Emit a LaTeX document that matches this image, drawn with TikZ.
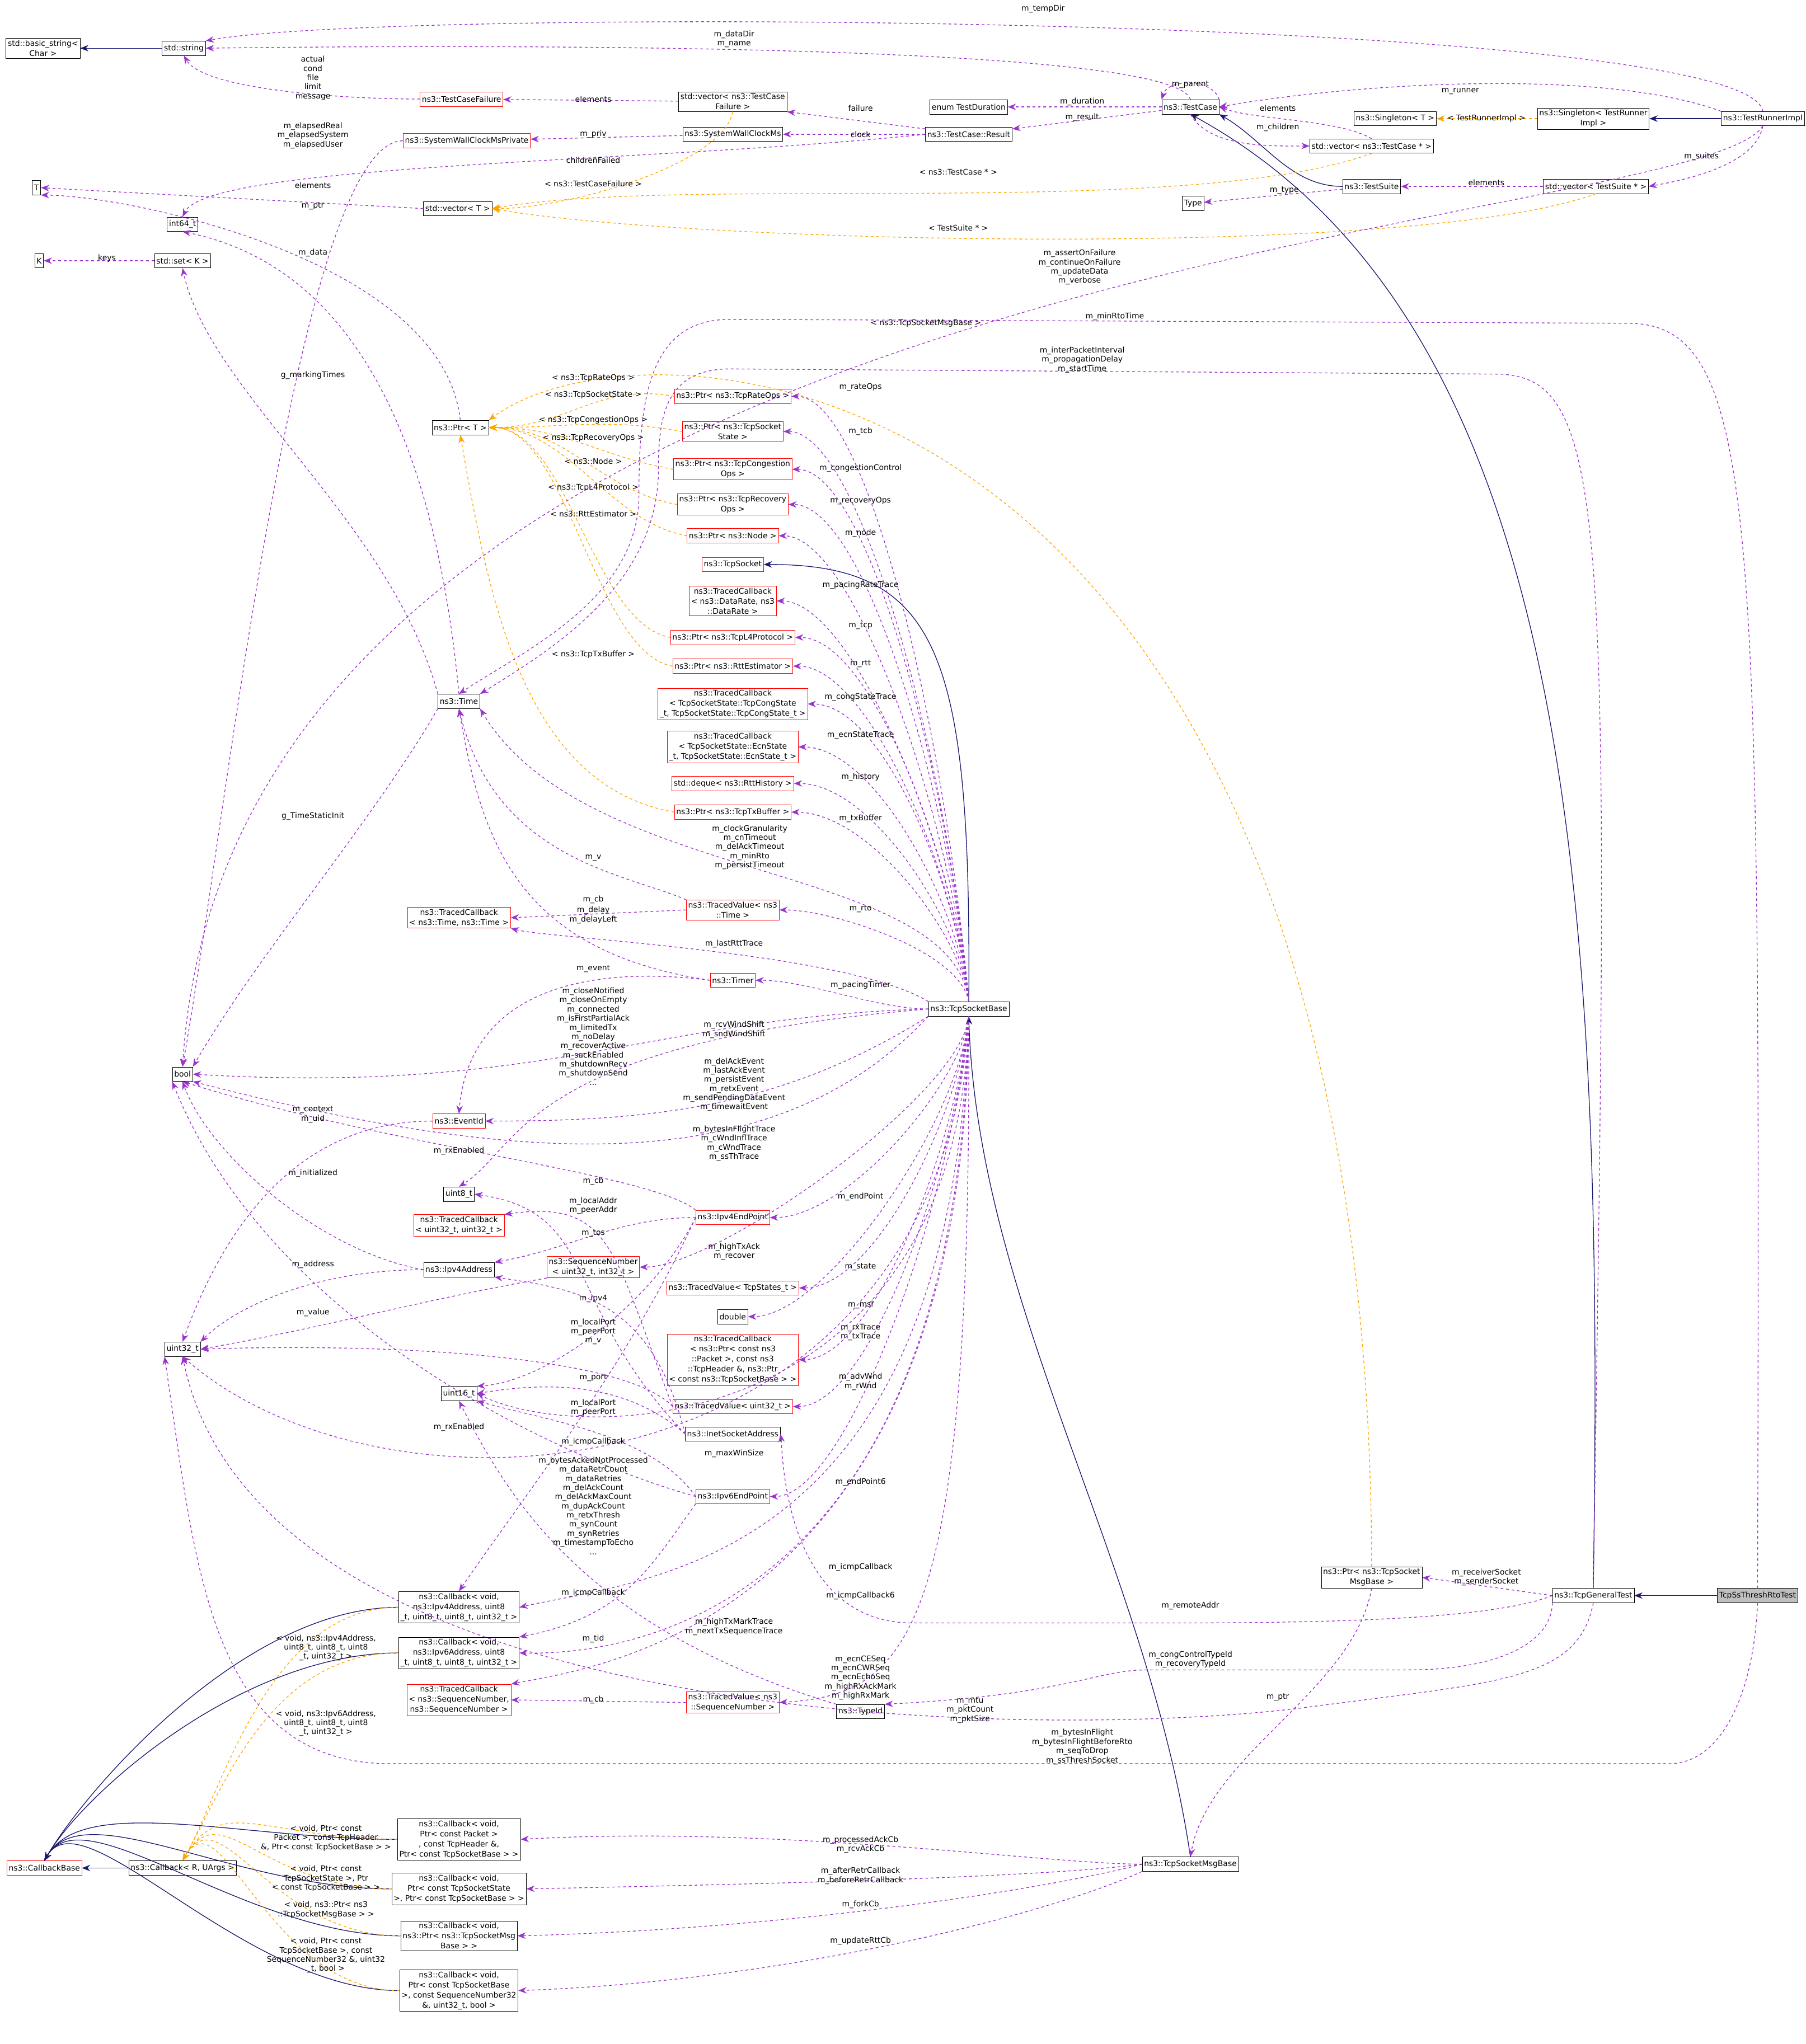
\documentclass[tikz,border=0pt]{standalone}
\usepackage{fontspec}
\setmainfont{DejaVu Sans}
\usetikzlibrary{arrows.meta}
\definecolor{inhcol}{HTML}{191970}
\definecolor{memcol}{HTML}{9A32CD}
\definecolor{tplcol}{HTML}{FFA500}
\tikzset{
  cls/.style={draw=black, fill=white, thin, inner sep=2pt, minimum height=0.55cm, align=center, font=\fontsize{8.5}{11}\selectfont},
  redcls/.style={cls, draw=red},
  inh/.style={draw=inhcol, thick, -{Stealth[length=9pt,width=7pt]}},
  tpl/.style={draw=tplcol, thick, dashed, -{Stealth[length=9pt,width=7pt]}},
  mem/.style={draw=memcol, thick, dashed, -{Stealth[length=9pt,width=7pt]}},
  lbl/.style={align=center, inner sep=0pt, font=\fontsize{8.5}{10}\selectfont},
}
\begin{document}
\begin{tikzpicture}[x=0.05cm,y=0.05cm]
\useasboundingbox (0,0) rectangle (1385,-1568);
% left column
\node[cls] (basic_string) at (33,-37) {std::basic\_string<\\Char >};
\node[cls] (std_string) at (141,-37) {std::string};
\node[cls] (T) at (28,-144) {T};
\node[cls] (int64) at (140,-172) {int64\_t};
\node[cls] (K) at (30,-200) {K};
\node[cls] (stdset) at (140,-200) {std::set< K >};
\node[cls] (ptrT) at (353,-328) {ns3::Ptr< T >};
\node[cls] (time) at (352,-538) {ns3::Time};
\node[cls] (bool) at (140,-824) {bool};
\node[cls] (uint32) at (140,-1035) {uint32\_t};
\node[redcls] (callbackbase) at (34,-1433) {ns3::CallbackBase};
\node[cls] (callbackR) at (140,-1433) {ns3::Callback< R, UArgs >};
% test framework
\node[redcls] (testcasefailure) at (354,-76) {ns3::TestCaseFailure};
\node[redcls] (syswallpriv) at (358,-108) {ns3::SystemWallClockMsPrivate};
\node[cls] (vectorT) at (351,-160) {std::vector< T >};
\node[cls] (vectorfailure) at (562,-78) {std::vector< ns3::TestCase\\Failure >};
\node[cls] (syswall) at (562,-103) {ns3::SystemWallClockMs};
\node[cls] (testduration) at (743,-82) {enum TestDuration};
\node[cls] (testresult) at (743,-103) {ns3::TestCase::Result};
\node[cls] (testcase) at (913,-82) {ns3::TestCase};
\node[cls] (vectortestcase) at (1052,-112) {std::vector< ns3::TestCase * >};
\node[cls] (singletonT) at (1070,-91) {ns3::Singleton< T >};
\node[cls] (singletonTR) at (1222,-91) {ns3::Singleton< TestRunner\\Impl >};
\node[cls] (testrunnerimpl) at (1352,-91) {ns3::TestRunnerImpl};
\node[cls] (type) at (915,-156) {Type};
\node[cls] (testsuite) at (1052,-143) {ns3::TestSuite};
\node[cls] (vectortestsuite) at (1224,-143) {std::vector< TestSuite * >};
% tcp socket members
\node[redcls] (ptrrate) at (562,-304) {ns3::Ptr< ns3::TcpRateOps >};
\node[redcls] (ptrtcb) at (562,-331) {ns3::Ptr< ns3::TcpSocket\\State >};
\node[redcls] (ptrcong) at (562,-360) {ns3::Ptr< ns3::TcpCongestion\\Ops >};
\node[redcls] (ptrrec) at (562,-387) {ns3::Ptr< ns3::TcpRecovery\\Ops >};
\node[redcls] (ptrnode) at (562,-411) {ns3::Ptr< ns3::Node >};
\node[redcls] (tcpsocket) at (562,-433) {ns3::TcpSocket};
\node[redcls] (tracedrate) at (562,-461) {ns3::TracedCallback\\< ns3::DataRate, ns3\\::DataRate >};
\node[redcls] (ptrl4) at (562,-489) {ns3::Ptr< ns3::TcpL4Protocol >};
\node[redcls] (ptrrtt) at (562,-511) {ns3::Ptr< ns3::RttEstimator >};
\node[redcls] (tracedcong) at (562,-540) {ns3::TracedCallback\\< TcpSocketState::TcpCongState\\\_t, TcpSocketState::TcpCongState\_t >};
\node[redcls] (tracedecn) at (562,-573) {ns3::TracedCallback\\< TcpSocketState::EcnState\\\_t, TcpSocketState::EcnState\_t >};
\node[redcls] (deque) at (562,-601) {std::deque< ns3::RttHistory >};
\node[redcls] (ptrtx) at (562,-623) {ns3::Ptr< ns3::TcpTxBuffer >};
\node[redcls] (tracedtime) at (562,-698) {ns3::TracedValue< ns3\\::Time >};
\node[redcls] (tracedcbtime) at (352,-704) {ns3::TracedCallback\\< ns3::Time, ns3::Time >};
\node[redcls] (timer) at (562,-752) {ns3::Timer};
\node[cls] (tcpsocketbase) at (743,-774) {ns3::TcpSocketBase};
\node[redcls] (eventid) at (352,-860) {ns3::EventId};
\node[cls] (uint8) at (352,-916) {uint8\_t};
\node[redcls] (tracedu32) at (352,-940) {ns3::TracedCallback\\< uint32\_t, uint32\_t >};
\node[cls] (ipv4addr) at (352,-974) {ns3::Ipv4Address};
\node[redcls] (ipv4ep) at (562,-934) {ns3::Ipv4EndPoint};
\node[redcls] (seqnum) at (455,-972) {ns3::SequenceNumber\\< uint32\_t, int32\_t >};
\node[redcls] (tracedstates) at (562,-988) {ns3::TracedValue< TcpStates\_t >};
\node[cls] (double) at (562,-1010) {double};
\node[redcls] (tracedpkt) at (562,-1043) {ns3::TracedCallback\\< ns3::Ptr< const ns3\\::Packet >, const ns3\\::TcpHeader \&, ns3::Ptr\\< const ns3::TcpSocketBase > >};
\node[redcls] (tracedvu32) at (562,-1079) {ns3::TracedValue< uint32\_t >};
\node[cls] (uint16) at (352,-1069) {uint16\_t};
\node[cls] (inetsock) at (562,-1100) {ns3::InetSocketAddress};
\node[redcls] (ipv6ep) at (562,-1148) {ns3::Ipv6EndPoint};
\node[cls] (cbipv4) at (352,-1233) {ns3::Callback< void,\\ns3::Ipv4Address, uint8\\\_t, uint8\_t, uint8\_t, uint32\_t >};
\node[cls] (cbipv6) at (352,-1268) {ns3::Callback< void,\\ns3::Ipv6Address, uint8\\\_t, uint8\_t, uint8\_t, uint32\_t >};
\node[redcls] (tracedseq) at (352,-1304) {ns3::TracedCallback\\< ns3::SequenceNumber,\\ns3::SequenceNumber >};
\node[redcls] (tracedvseq) at (562,-1306) {ns3::TracedValue< ns3\\::SequenceNumber >};
\node[cls] (typeid) at (660,-1313) {ns3::TypeId};
\node[cls] (cbpkt) at (352,-1411) {ns3::Callback< void,\\Ptr< const Packet >\\, const TcpHeader \&,\\Ptr< const TcpSocketBase > >};
\node[cls] (cbstate) at (352,-1449) {ns3::Callback< void,\\Ptr< const TcpSocketState\\>, Ptr< const TcpSocketBase > >};
\node[cls] (cbmsg) at (352,-1485) {ns3::Callback< void,\\ns3::Ptr< ns3::TcpSocketMsg\\Base > >};
\node[cls] (cbrtt) at (352,-1527) {ns3::Callback< void,\\Ptr< const TcpSocketBase\\>, const SequenceNumber32\\\&, uint32\_t, bool >};
\node[cls] (msgbase) at (913,-1430) {ns3::TcpSocketMsgBase};
\node[cls] (ptrmsg) at (1052,-1210) {ns3::Ptr< ns3::TcpSocket\\MsgBase >};
\node[cls] (generaltest) at (1222,-1224) {ns3::TcpGeneralTest};
\node[cls, fill=black!25] (ssthresh) at (1348,-1224) {TcpSsThreshRtoTest};

% inheritance
\draw[inh] (std_string) -- (basic_string);
\draw[inh] (testsuite.west) .. controls +(180:40) and +(-30:40) .. (testcase.south east);
\draw[inh] (testrunnerimpl) -- (singletonTR);
\draw[inh] (generaltest.north) .. controls (1230,-700) and (1210,-250) .. (testcase.south);
\draw[inh] (ssthresh) -- (generaltest);
\draw[inh] (tcpsocketbase.north) .. controls (745,-500) and (720,-433) .. (tcpsocket.east);
\draw[inh] (msgbase.north) .. controls (880,-1200) and (750,-1000) .. (tcpsocketbase.south);
\draw[inh] (callbackR) -- (callbackbase);
\foreach \cb in {cbipv4,cbipv6,cbpkt,cbstate,cbmsg,cbrtt}
  \draw[inh] (\cb.west) .. controls +(180:120) and +(60:60) .. (callbackbase.north);

% templates
\draw[tpl] (vectorfailure.south) .. controls +(-100:40) and +(0:60) .. (vectorT.east);
\draw[tpl] (vectortestcase.south) .. controls +(-160:150) and +(10:150) .. (vectorT.east);
\draw[tpl] (vectortestsuite.south) .. controls +(-160:150) and +(-10:150) .. (vectorT.east);
\draw[tpl] (singletonTR) -- (singletonT);
\foreach \p in {ptrrate,ptrtcb,ptrcong,ptrrec,ptrnode,ptrl4,ptrrtt}
  \draw[tpl] (\p.west) .. controls +(170:60) and +(0:60) .. (ptrT.east);
\draw[tpl] (ptrtx.west) .. controls +(170:120) and +(-80:120) .. (ptrT.south);
\draw[tpl] (ptrmsg.north) .. controls (1050,-270) and (500,-230) .. (ptrT.north east);
\foreach \cb in {cbipv4,cbipv6,cbpkt,cbstate,cbmsg,cbrtt}
  \draw[tpl] (\cb.west) .. controls +(180:100) and +(60:60) .. (callbackR.north);

% members, test framework
\draw[mem] (testrunnerimpl.north) .. controls (1340,-10) and (300,-5) .. (std_string.north east);
\draw[mem] (testcase.north) .. controls (900,-30) and (300,-35) .. (std_string.east);
\draw[mem] (testcasefailure.west) .. controls +(180:60) and +(-60:30) .. (std_string.south);
\draw[mem] (vectorfailure) -- (testcasefailure);
\draw[mem] (syswall) -- (syswallpriv);
\draw[mem] (syswallpriv.west) .. controls +(180:80) and +(80:200) .. (bool.north);
\draw[mem] (testresult) -- (vectorfailure.south east);
\draw[mem] (testresult) -- (syswall);
\draw[mem] (testresult.west) .. controls (500,-125) and (160,-125) .. (int64.north);
\draw[mem] (testcase) -- (testduration);
\draw[mem] (testcase) -- (testresult);
\draw[mem] (testcase.north east) .. controls (930,-60) and (896,-60) .. (testcase.north west);
\draw[mem] (vectortestcase.north) .. controls +(150:30) and +(-20:30) .. (testcase.east);
\draw[mem] (testcase.south) .. controls +(-60:30) and +(180:30) .. (vectortestcase.west);
\draw[mem] (testrunnerimpl.north west) .. controls +(160:100) and +(10:100) .. (testcase.east);
\draw[mem] (testrunnerimpl.south) .. controls +(-100:30) and +(10:30) .. (vectortestsuite.east);
\draw[mem] (testsuite) -- (type);
\draw[mem] (vectortestsuite) -- (testsuite);
\draw[mem] (vectorT.west) -- (T.east);
\draw[mem] (ptrT.north) .. controls (340,-200) and (100,-150) .. (T.south east);
\draw[mem] (time.north) .. controls (330,-300) and (250,-200) .. (int64.south);
\draw[mem] (stdset) -- (K);
\draw[mem] (time.north west) .. controls (300,-400) and (160,-300) .. (stdset.south);
\draw[mem] (time.south west) .. controls +(-120:100) and +(60:100) .. (bool.north east);
\draw[mem] (testrunnerimpl.south) .. controls (1300,-180) and (180,-190) .. (bool.north);
\draw[mem] (ssthresh.north) .. controls (1350,-400) and (1350,-250) .. (1250,-248) -- (560,-245)
  .. controls (500,-245) and (490,-300) .. (490,-380) .. controls (490,-460) and (400,-500) .. (time.north);
\draw[mem] (generaltest.north) .. controls (1235,-400) and (1235,-290) .. (1150,-287) -- (560,-283)
  .. controls (510,-283) and (505,-320) .. (505,-360) .. controls (505,-450) and (420,-500) .. (time.north east);

% members, tcp socket base
\foreach \m/\d in {ptrrate/200,ptrtcb/180,ptrcong/160,ptrrec/150,ptrnode/130,tracedrate/110,ptrl4/100,ptrrtt/90,tracedcong/80,tracedecn/70,deque/60,ptrtx/50}
  \draw[mem] (tcpsocketbase.north) .. controls +(95:\d) and +(0:60) .. (\m.east);
\draw[mem] (tcpsocketbase.north) .. controls (730,-660) and (450,-680) .. (time.south east);
\draw[mem] (tracedtime.north west) .. controls (480,-670) and (380,-660) .. (time.south);
\draw[mem] (tracedtime.west) -- (tracedcbtime.east);
\draw[mem] (timer.west) .. controls (400,-730) and (370,-650) .. (time.south);
\draw[mem] (tcpsocketbase.north) .. controls +(100:40) and +(0:40) .. (tracedtime.east);
\draw[mem] (tcpsocketbase.north west) .. controls (650,-730) and (420,-720) .. (tracedcbtime.south east);
\draw[mem] (timer.west) .. controls (450,-740) and (360,-760) .. (eventid.north);
\draw[mem] (tcpsocketbase.west) .. controls +(180:40) and +(0:40) .. (timer.east);
\draw[mem] (tcpsocketbase.west) .. controls (500,-780) and (420,-840) .. (bool.east);
\draw[mem] (tcpsocketbase.west) .. controls (400,-800) and (400,-880) .. (uint8.north);
\draw[mem] (tcpsocketbase.south west) .. controls (600,-850) and (500,-860) .. (eventid.east);
\draw[mem] (tcpsocketbase.south west) .. controls (600,-900) and (420,-900) .. (bool.south east);
\draw[mem] (eventid.west) .. controls +(180:100) and +(70:100) .. (uint32.north);
\draw[mem] (ipv4ep.north west) .. controls (500,-900) and (300,-880) .. (bool.south);
\draw[mem] (ipv4addr.west) .. controls +(170:80) and +(-70:60) .. (bool.south);
\draw[mem] (tracedvu32.west) .. controls (470,-960) and (470,-920) .. (tracedu32.north east);
\draw[mem] (inetsock.west) .. controls (430,-1000) and (460,-930) .. (uint8.east);
\draw[mem] (ipv4ep.west) .. controls +(180:60) and +(10:60) .. (ipv4addr.north east);
\draw[mem] (ipv4addr.west) .. controls +(180:80) and +(45:40) .. (uint32.north east);
\draw[mem] (seqnum.south west) .. controls +(-170:100) and +(10:100) .. (uint32.east);
\draw[mem] (tracedvu32.west) .. controls (480,-1040) and (300,-1030) .. (uint32.east);
\draw[mem] (inetsock.west) .. controls (500,-1000) and (450,-990) .. (ipv4addr.south east);
\draw[mem] (ipv4ep.west) .. controls (500,-1000) and (420,-1060) .. (uint16.north east);
\draw[mem] (inetsock.west) .. controls (480,-1060) and (420,-1060) .. (uint16.east);
\draw[mem] (ipv6ep.west) .. controls (500,-1100) and (420,-1090) .. (uint16.south east);
\draw[mem] (ipv6ep.west) .. controls (400,-1110) and (200,-1000) .. (bool.south west);
\draw[mem] (ipv4ep.west) .. controls (480,-1050) and (400,-1150) .. (cbipv4.north);
\draw[mem] (tcpsocketbase.south) .. controls (720,-1150) and (300,-1180) .. (uint32.south);
\draw[mem] (tcpsocketbase.south) .. controls (730,-1200) and (500,-1210) .. (cbipv4.east);
\draw[mem] (ipv6ep.south west) .. controls (500,-1200) and (480,-1240) .. (cbipv6.north east);
\draw[mem] (tcpsocketbase.south) .. controls (735,-1220) and (500,-1270) .. (cbipv6.east);
\draw[mem] (typeid.north west) .. controls (450,-1250) and (390,-1150) .. (uint16.south);
\draw[mem] (tcpsocketbase.south) .. controls (740,-1250) and (450,-1280) .. (tracedseq.north east);
\draw[mem] (tracedvseq.west) -- (tracedseq.east);
\draw[mem] (tcpsocketbase.south) .. controls (745,-1250) and (700,-1300) .. (tracedvseq.east);
\foreach \m/\d in {ipv4ep/50,seqnum/60,tracedstates/70,double/80,tracedpkt/90,tracedvu32/110,ipv6ep/140}
  \draw[mem] (tcpsocketbase.south) .. controls +(-95:\d) and +(0:60) .. (\m.east);
\draw[mem] (tcpsocketbase.south) .. controls (735,-1100) and (450,-1110) .. (uint16.east);
\draw[mem] (generaltest.west) .. controls (1150,-1240) and (1050,-1245) .. (900,-1245) -- (700,-1245)
  .. controls (600,-1245) and (600,-1110) .. (inetsock.east);
\draw[mem] (generaltest.west) -- (ptrmsg.east);
\draw[mem] (generaltest.south west) .. controls (1190,-1260) and (1150,-1281) .. (1080,-1281) -- (880,-1281)
  .. controls (840,-1281) and (820,-1300) .. (typeid.north east);
\draw[mem] (generaltest.south) .. controls (1210,-1290) and (1150,-1290) .. (1000,-1310)
  .. controls (800,-1335) and (200,-1330) .. (uint32.south);
\draw[mem] (ssthresh.south) .. controls (1345,-1300) and (1320,-1353) .. (1280,-1353) -- (300,-1353)
  .. controls (160,-1353) and (150,-1200) .. (uint32.south west);
\draw[mem] (ptrmsg.south) .. controls +(-100:80) and +(80:80) .. (msgbase.north);
\draw[mem] (msgbase.west) .. controls (800,-1430) and (600,-1400) .. (cbpkt.east);
\draw[mem] (msgbase.west) .. controls (800,-1440) and (600,-1445) .. (cbstate.east);
\draw[mem] (msgbase.west) .. controls (800,-1450) and (600,-1480) .. (cbmsg.east);
\draw[mem] (msgbase.south west) .. controls (800,-1470) and (600,-1520) .. (cbrtt.east);

% labels
\node[lbl] at (800,-7) {m\_tempDir};
\node[lbl] at (563,-30) {m\_dataDir\\m\_name};
\node[lbl] at (240,-60) {actual\\cond\\file\\limit\\message};
\node[lbl] at (455,-76) {elements};
\node[lbl] at (455,-103) {m\_priv};
\node[lbl] at (240,-104) {m\_elapsedReal\\m\_elapsedSystem\\m\_elapsedUser};
\node[lbl] at (660,-83) {failure};
\node[lbl] at (660,-103) {clock};
\node[lbl] at (455,-123) {childrenFailed};
\node[lbl] at (830,-78) {m\_duration};
\node[lbl] at (830,-90) {m\_result};
\node[lbl] at (913,-65) {m\_parent};
\node[lbl] at (980,-83) {elements};
\node[lbl] at (980,-98) {m\_children};
\node[lbl] at (1120,-70) {m\_runner};
\node[lbl] at (1305,-120) {m\_suites};
\node[lbl] at (985,-146) {m\_type};
\node[lbl] at (1140,-140) {elements};
\node[lbl] at (240,-142) {elements};
\node[lbl] at (240,-158) {m\_ptr};
\node[lbl] at (240,-194) {m\_data};
\node[lbl] at (82,-198) {keys};
\node[lbl] at (240,-288) {g\_markingTimes};
\node[lbl] at (240,-626) {g\_TimeStaticInit};
\node[lbl] at (828,-205) {m\_assertOnFailure\\m\_continueOnFailure\\m\_updateData\\m\_verbose};
\node[lbl] at (855,-243) {m\_minRtoTime};
\node[lbl] at (830,-276) {m\_interPacketInterval\\m\_propagationDelay\\m\_startTime};
\node[lbl] at (455,-141) {< ns3::TestCaseFailure >};
\node[lbl] at (735,-132) {< ns3::TestCase * >};
\node[lbl] at (735,-175) {< TestSuite * >};
\node[lbl] at (1140,-91) {< TestRunnerImpl >};
\node[lbl] at (455,-290) {< ns3::TcpRateOps >};
\node[lbl] at (455,-303) {< ns3::TcpSocketState >};
\node[lbl] at (455,-322) {< ns3::TcpCongestionOps >};
\node[lbl] at (455,-336) {< ns3::TcpRecoveryOps >};
\node[lbl] at (455,-354) {< ns3::Node >};
\node[lbl] at (455,-374) {< ns3::TcpL4Protocol >};
\node[lbl] at (455,-394) {< ns3::RttEstimator >};
\node[lbl] at (455,-502) {< ns3::TcpTxBuffer >};
\node[lbl] at (710,-248) {< ns3::TcpSocketMsgBase >};
\node[lbl] at (660,-297) {m\_rateOps};
\node[lbl] at (660,-331) {m\_tcb};
\node[lbl] at (660,-359) {m\_congestionControl};
\node[lbl] at (660,-384) {m\_recoveryOps};
\node[lbl] at (660,-409) {m\_node};
\node[lbl] at (660,-449) {m\_pacingRateTrace};
\node[lbl] at (660,-480) {m\_tcp};
\node[lbl] at (660,-509) {m\_rtt};
\node[lbl] at (660,-535) {m\_congStateTrace};
\node[lbl] at (660,-564) {m\_ecnStateTrace};
\node[lbl] at (660,-596) {m\_history};
\node[lbl] at (660,-628) {m\_txBuffer};
\node[lbl] at (575,-650) {m\_clockGranularity\\m\_cnTimeout\\m\_delAckTimeout\\m\_minRto\\m\_persistTimeout};
\node[lbl] at (455,-658) {m\_v};
\node[lbl] at (455,-690) {m\_cb};
\node[lbl] at (455,-702) {m\_delay\\m\_delayLeft};
\node[lbl] at (660,-697) {m\_rto};
\node[lbl] at (563,-724) {m\_lastRttTrace};
\node[lbl] at (455,-743) {m\_event};
\node[lbl] at (660,-756) {m\_pacingTimer};
\node[lbl] at (455,-795) {m\_closeNotified\\m\_closeOnEmpty\\m\_connected\\m\_isFirstPartialAck\\m\_limitedTx\\m\_noDelay\\m\_recoverActive\\m\_sackEnabled\\m\_shutdownRecv\\m\_shutdownSend\\...};
\node[lbl] at (563,-790) {m\_rcvWindShift\\m\_sndWindShift};
\node[lbl] at (563,-832) {m\_delAckEvent\\m\_lastAckEvent\\m\_persistEvent\\m\_retxEvent\\m\_sendPendingDataEvent\\m\_timewaitEvent};
\node[lbl] at (563,-877) {m\_bytesInFlightTrace\\m\_cWndInflTrace\\m\_cWndTrace\\m\_ssThTrace};
\node[lbl] at (240,-855) {m\_context\\m\_uid};
\node[lbl] at (352,-883) {m\_rxEnabled};
\node[lbl] at (240,-900) {m\_initialized};
\node[lbl] at (455,-906) {m\_cb};
\node[lbl] at (455,-925) {m\_localAddr\\m\_peerAddr};
\node[lbl] at (455,-946) {m\_tos};
\node[lbl] at (240,-970) {m\_address};
\node[lbl] at (455,-996) {m\_ipv4};
\node[lbl] at (240,-1007) {m\_value};
\node[lbl] at (455,-1018) {m\_localPort\\m\_peerPort};
\node[lbl] at (455,-1029) {m\_v};
\node[lbl] at (455,-1057) {m\_port};
\node[lbl] at (455,-1080) {m\_localPort\\m\_peerPort};
\node[lbl] at (352,-1095) {m\_rxEnabled};
\node[lbl] at (455,-1106) {m\_icmpCallback};
\node[lbl] at (455,-1155) {m\_bytesAckedNotProcessed\\m\_dataRetrCount\\m\_dataRetries\\m\_delAckCount\\m\_delAckMaxCount\\m\_dupAckCount\\m\_retxThresh\\m\_synCount\\m\_synRetries\\m\_timestampToEcho\\...};
\node[lbl] at (660,-918) {m\_endPoint};
\node[lbl] at (563,-960) {m\_highTxAck\\m\_recover};
\node[lbl] at (660,-972) {m\_state};
\node[lbl] at (660,-1001) {m\_msl};
\node[lbl] at (660,-1022) {m\_rxTrace\\m\_txTrace};
\node[lbl] at (660,-1060) {m\_advWnd\\m\_rWnd};
\node[lbl] at (563,-1115) {m\_maxWinSize};
\node[lbl] at (660,-1137) {m\_endPoint6};
\node[lbl] at (660,-1202) {m\_icmpCallback};
\node[lbl] at (455,-1222) {m\_icmpCallback};
\node[lbl] at (660,-1224) {m\_icmpCallback6};
\node[lbl] at (455,-1257) {m\_tid};
\node[lbl] at (563,-1248) {m\_highTxMarkTrace\\m\_nextTxSequenceTrace};
\node[lbl] at (455,-1304) {m\_cb};
\node[lbl] at (660,-1287) {m\_ecnCESeq\\m\_ecnCWRSeq\\m\_ecnEchoSeq\\m\_highRxAckMark\\m\_highRxMark};
\node[lbl] at (913,-1232) {m\_remoteAddr};
\node[lbl] at (1140,-1210) {m\_receiverSocket\\m\_senderSocket};
\node[lbl] at (913,-1273) {m\_congControlTypeId\\m\_recoveryTypeId};
\node[lbl] at (744,-1312) {m\_mtu\\m\_pktCount\\m\_pktSize};
\node[lbl] at (830,-1340) {m\_bytesInFlight\\m\_bytesInFlightBeforeRto\\m\_seqToDrop\\m\_ssThreshSocket};
\node[lbl] at (980,-1302) {m\_ptr};
\node[lbl] at (660,-1415) {m\_processedAckCb\\m\_rcvAckCb};
\node[lbl] at (660,-1439) {m\_afterRetrCallback\\m\_beforeRetrCallback};
\node[lbl] at (660,-1461) {m\_forkCb};
\node[lbl] at (660,-1489) {m\_updateRttCb};
\node[lbl] at (250,-1264) {< void, ns3::Ipv4Address,\\uint8\_t, uint8\_t, uint8\\\_t, uint32\_t >};
\node[lbl] at (250,-1322) {< void, ns3::Ipv6Address,\\uint8\_t, uint8\_t, uint8\\\_t, uint32\_t >};
\node[lbl] at (250,-1410) {< void, Ptr< const\\Packet >, const TcpHeader\\\&, Ptr< const TcpSocketBase > >};
\node[lbl] at (250,-1441) {< void, Ptr< const\\TcpSocketState >, Ptr\\< const TcpSocketBase > >};
\node[lbl] at (250,-1465) {< void, ns3::Ptr< ns3\\::TcpSocketMsgBase > >};
\node[lbl] at (250,-1500) {< void, Ptr< const\\TcpSocketBase >, const\\SequenceNumber32 \&, uint32\\\_t, bool >};
\end{tikzpicture}
\end{document}
